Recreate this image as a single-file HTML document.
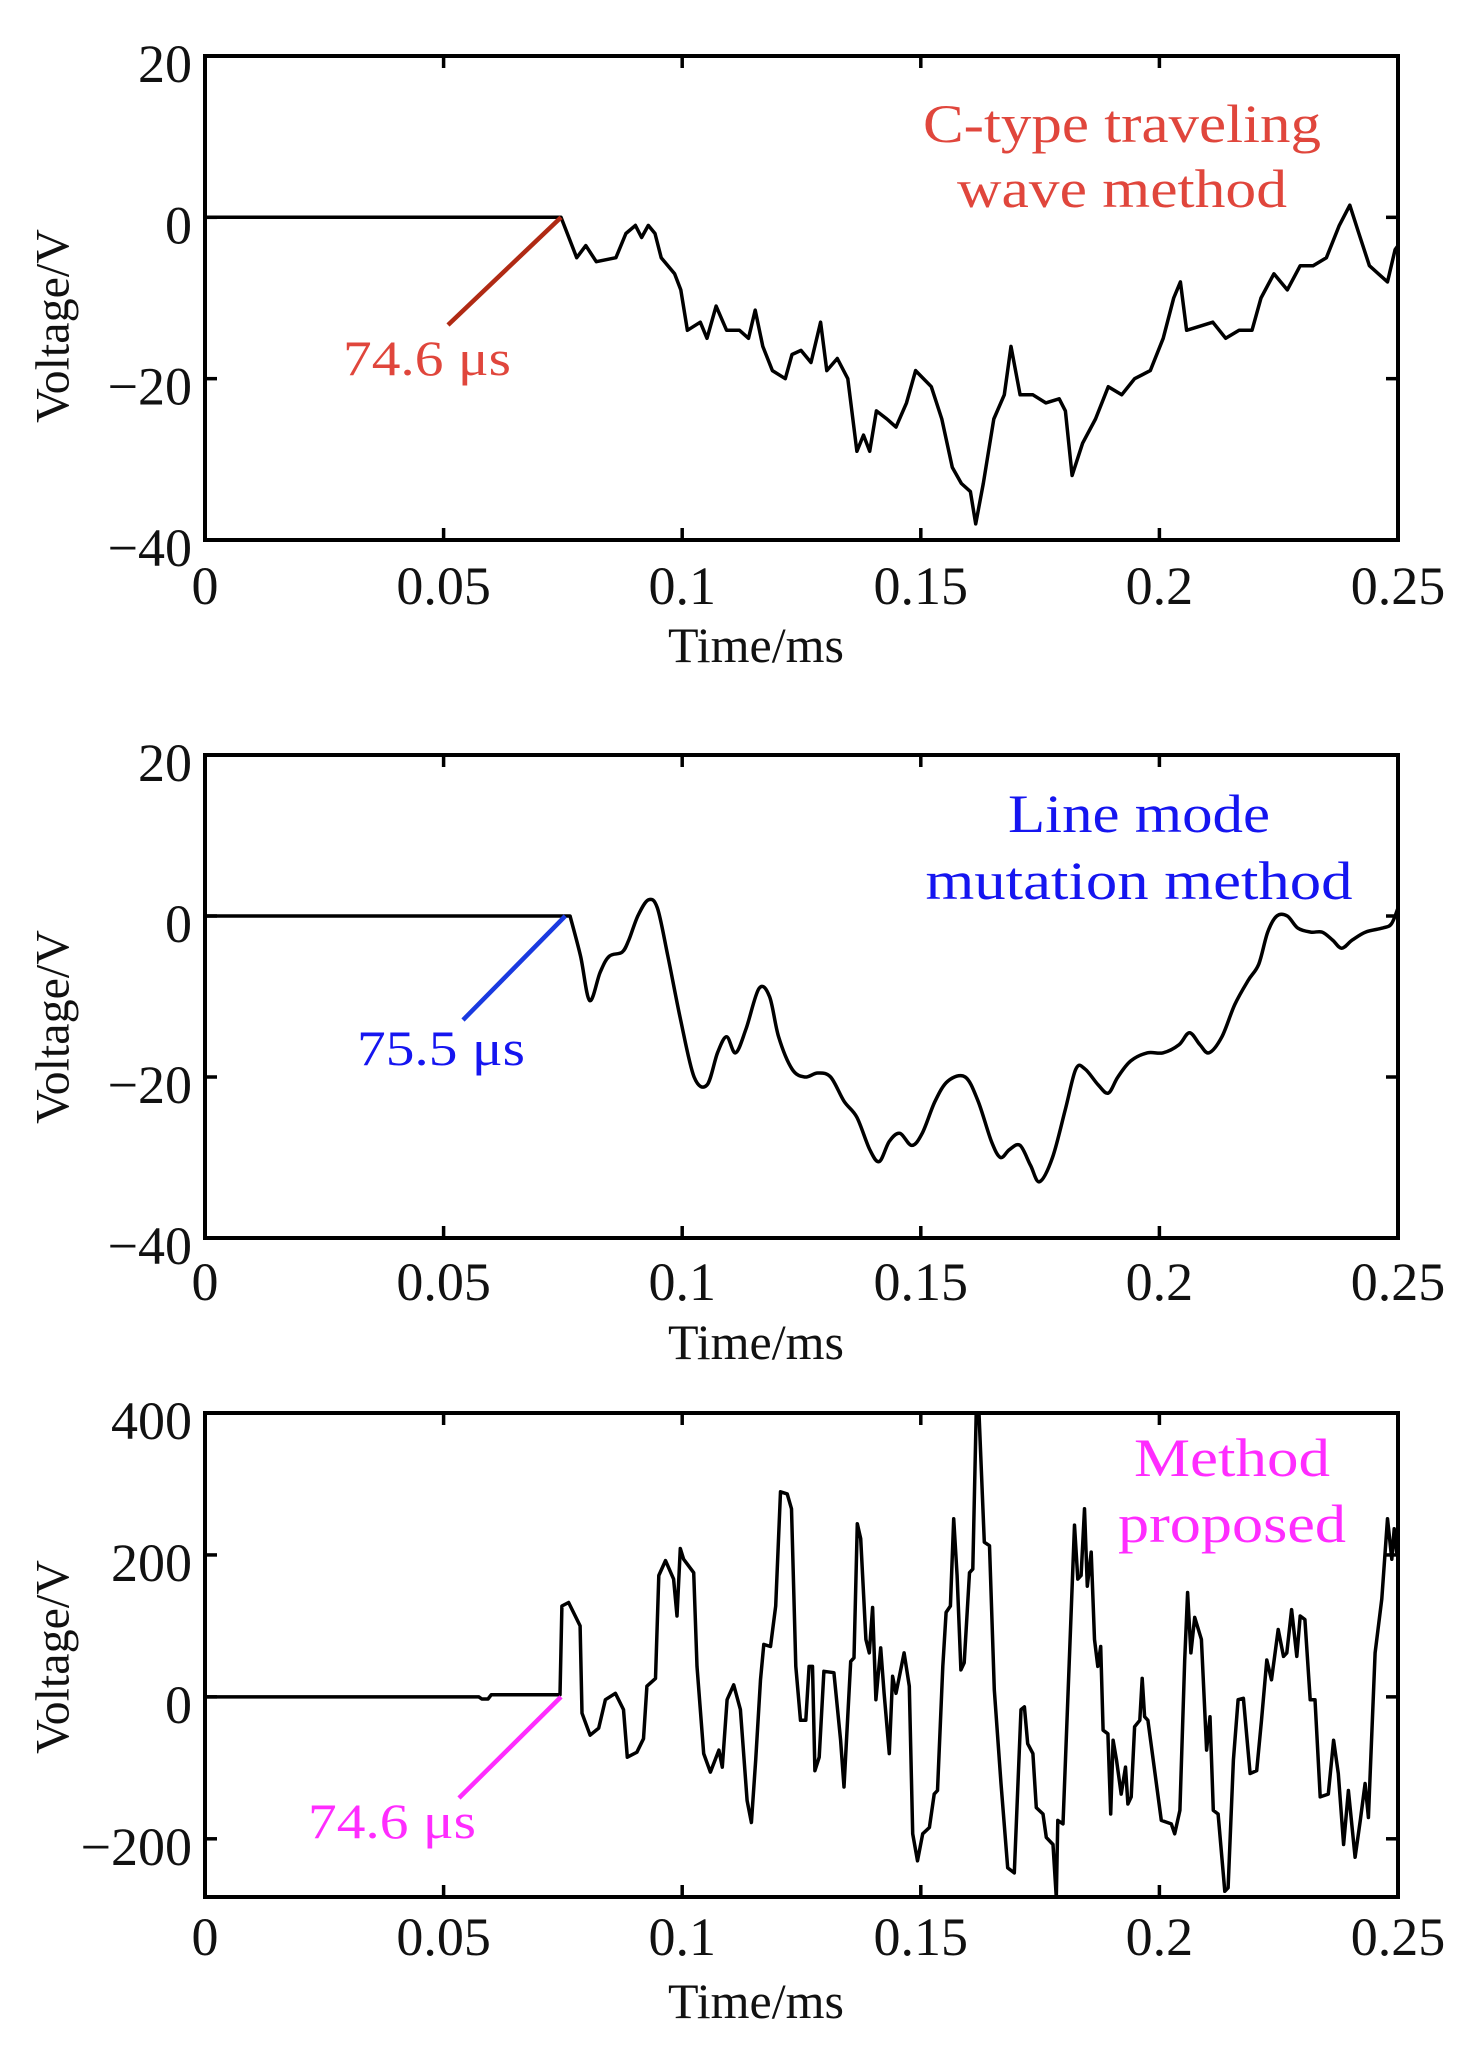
<!DOCTYPE html>
<html><head><meta charset="utf-8"><style>
html,body{margin:0;padding:0;background:#fff}
svg{display:block}
text{font-family:"Liberation Serif",serif}
</style></head><body>
<svg id="fig" width="1465" height="2047" viewBox="0 0 1465 2047" xmlns="http://www.w3.org/2000/svg"></svg>
<script>
// ---------- data ----------
const xTicks = [0, 0.05, 0.1, 0.15, 0.2, 0.25];
const xTickLabels = ["0", "0.05", "0.1", "0.15", "0.2", "0.25"];
const yTicks1 = [20, 0, -20, -40];
const yTickLabels1 = ["20", "0", "\u221220", "\u221240"];
const yTicks2 = [20, 0, -20, -40];
const yTickLabels2 = ["20", "0", "\u221220", "\u221240"];
const yTicks3 = [400, 200, 0, -200];
const yTickLabels3 = ["400", "200", "0", "\u2212200"];
const onsetTimes = [0.0746, 0.0755, 0.0746];

const t1 = [0,0.0746,0.0779,0.0798,0.0820,0.0861,0.0882,0.0902,0.0915,0.0929,0.0943,0.0956,0.0984,0.0997,0.1011,0.1038,0.1052,0.1071,0.1093,0.1120,0.1139,0.1153,0.1169,0.1189,0.1216,0.1230,0.1249,0.1270,0.1290,0.1303,0.1325,0.1347,0.1366,0.1380,0.1393,0.1407,0.1429,0.1448,0.1470,0.1489,0.1522,0.1544,0.1566,0.1585,0.1604,0.1615,0.1631,0.1653,0.1675,0.1689,0.1708,0.1735,0.1762,0.1790,0.1803,0.1817,0.1839,0.1866,0.1893,0.1921,0.1948,0.1981,0.2008,0.2030,0.2044,0.2057,0.2085,0.2112,0.2139,0.2167,0.2194,0.2213,0.2240,0.2268,0.2295,0.2322,0.2350,0.2377,0.2399,0.2418,0.2440,0.2459,0.2478,0.2494,0.25];
const v1 = [0,0,-5,-3.5,-5.5,-5,-2,-1,-2.5,-1,-2,-5,-7,-9,-14,-13,-15,-11,-14,-14,-15,-11.5,-16,-19,-20,-17,-16.5,-18,-13,-19,-17.5,-20,-29,-27,-29,-24,-25,-26,-23,-19,-21,-25,-31,-33,-34,-38,-33,-25,-22,-16,-22,-22,-23,-22.5,-24,-32,-28,-25,-21,-22,-20,-19,-15,-10,-8,-14,-13.5,-13,-15,-14,-14,-10,-7,-9,-6,-6,-5,-1,1.5,-2,-6,-7,-8,-4,-3.5];

const t2 = [0,0.0765,0.0787,0.0806,0.0828,0.0847,0.0874,0.0888,0.0907,0.0929,0.0948,0.0970,0.0997,0.1025,0.1052,0.1074,0.1093,0.1112,0.1134,0.1161,0.1183,0.1202,0.1230,0.1257,0.1284,0.1311,0.1339,0.1366,0.1393,0.1413,0.1434,0.1456,0.1481,0.1503,0.1530,0.1557,0.1593,0.1620,0.1648,0.1667,0.1686,0.1708,0.1730,0.1749,0.1776,0.1803,0.1825,0.1844,0.1872,0.1893,0.1913,0.1940,0.1975,0.2008,0.2041,0.2063,0.2085,0.2104,0.2131,0.2158,0.2186,0.2208,0.2227,0.2246,0.2268,0.2290,0.2317,0.2341,0.2363,0.2382,0.2404,0.2432,0.2467,0.2486,0.25];
const v2 = [0,0,-5,-10.5,-7,-5,-4.5,-3,0,2,1,-5,-13,-20,-21,-17,-15,-17,-14,-9,-10,-15,-19,-20,-19.5,-20,-23,-25,-29,-30.5,-28,-27,-28.5,-27,-23,-20.5,-20,-23,-28,-30,-29,-28.5,-31,-33,-30,-24,-19,-19,-21,-22,-20,-18,-17,-17,-16,-14.5,-16,-17,-15,-11,-8,-6,-2,0,0,-1.5,-2,-2,-3,-4,-3,-2,-1.5,-1,1];

const t3 = [0,0.0574,0.0580,0.0593,0.0600,0.0744,0.0748,0.0762,0.0786,0.0790,0.0807,0.0825,0.0839,0.0860,0.0877,0.0885,0.0905,0.0919,0.0926,0.0944,0.0951,0.0965,0.0982,0.0989,0.0996,0.1003,0.1024,0.1031,0.1045,0.1059,0.1077,0.1084,0.1094,0.1108,0.1122,0.1136,0.1145,0.1154,0.1164,0.1171,0.1185,0.1196,0.1206,0.1220,0.1229,0.1238,0.1248,0.1259,0.1266,0.1273,0.1278,0.1287,0.1297,0.1318,0.1332,0.1339,0.1353,0.1360,0.1367,0.1374,0.1385,0.1392,0.1399,0.1406,0.1416,0.1423,0.1434,0.1441,0.1448,0.1465,0.1476,0.1483,0.1493,0.1504,0.1518,0.1528,0.1535,0.1546,0.1553,0.1562,0.1569,0.1576,0.1584,0.1591,0.1602,0.1609,0.1616,0.1622,0.1633,0.1644,0.1654,0.1668,0.1682,0.1696,0.1710,0.1717,0.1724,0.1735,0.1742,0.1756,0.1763,0.1777,0.1784,0.1787,0.1798,0.1808,0.1822,0.1829,0.1836,0.1843,0.1849,0.1857,0.1864,0.1871,0.1877,0.1882,0.1892,0.1898,0.1903,0.1910,0.1920,0.1929,0.1934,0.1941,0.1948,0.1959,0.1964,0.1969,0.1976,0.2004,0.2025,0.2032,0.2043,0.2053,0.2059,0.2066,0.2074,0.2088,0.2099,0.2106,0.2113,0.2123,0.2137,0.2144,0.2155,0.2165,0.2176,0.2190,0.2204,0.2214,0.2225,0.2235,0.2249,0.2260,0.2267,0.2277,0.2288,0.2295,0.2305,0.2316,0.2326,0.2337,0.2354,0.2365,0.2375,0.2386,0.2396,0.2410,0.2421,0.2431,0.2438,0.2452,0.2466,0.2478,0.2487,0.2492,0.2497,0.25];
const v3 = [0,0,-3,-3,3,3,128,133,100,-23,-54,-44,-4,5,-18,-85,-78,-59,15,26,171,192,166,114,209,194,175,43,-80,-106,-75,-99,-4,17,-18,-146,-177,-89,24,74,71,128,289,286,265,43,-33,-33,43,43,-104,-85,36,34,-61,-127,50,55,244,223,81,62,126,-4,69,5,-80,29,5,62,15,-193,-231,-193,-184,-137,-132,43,119,128,251,171,38,48,175,180,400,400,218,213,10,-122,-241,-248,-18,-14,-66,-80,-156,-165,-198,-208,-283,-174,-179,-4,242,166,171,265,156,204,81,43,71,-47,-52,-165,-61,-89,-137,-99,-151,-141,-42,-33,26,-28,-33,-174,-179,-193,-160,52,147,62,112,81,-75,-28,-160,-165,-274,-269,-89,-4,-2,-108,-104,-33,52,24,95,57,62,123,57,114,109,-4,-4,-141,-137,-61,-108,-208,-132,-226,-174,-122,-170,62,138,251,194,237,204,232];

// ---------- drawing ----------
const NS = "http://www.w3.org/2000/svg";
const svg = document.getElementById("fig");
const X0 = 205, X1 = 1398;
function mk(tag, attrs, parent) {
  const e = document.createElementNS(NS, tag);
  for (const k in attrs) e.setAttribute(k, attrs[k]);
  (parent || svg).appendChild(e);
  return e;
}
function xScale(t) { return X0 + (t - 0) / 0.25 * (X1 - X0); }

const panels = [
  {name:"c-type", top:56, bot:540, ymax:20, ymin:-40, ticks:yTicks1, labels:yTickLabels1, t:t1, v:v1, smooth:false,
   xlabY:586, tlabY:645, vlabY:326,
   title:["C-type traveling","wave method"], titleX:1122, titleY:[124,189], titleW:[398,330], color:"#e0463c",
   lineColor:"#b02a14", lx1:448, ly1:325, ann:"74.6 \u03bcs", annX:427, annY:358},
  {name:"line-mode", top:755, bot:1238, ymax:20, ymin:-40, ticks:yTicks2, labels:yTickLabels2, t:t2, v:v2, smooth:true,
   xlabY:1282, tlabY:1342, vlabY:1027,
   title:["Line mode","mutation method"], titleX:1139, titleY:[814,881], titleW:[262,427], color:"#1515f0",
   lineColor:"#1a3ae0", lx1:463, ly1:1020, ann:"75.5 \u03bcs", annX:441, annY:1048},
  {name:"proposed", top:1413, bot:1897, ymax:400, ymin:-282, ticks:yTicks3, labels:yTickLabels3, t:t3, v:v3, smooth:false,
   xlabY:1937, tlabY:2001, vlabY:1657,
   title:["Method","proposed"], titleX:1232, titleY:[1458,1524], titleW:[196,228], color:"#ff2cff",
   lineColor:"#ff2cff", lx1:459, ly1:1798, ann:"74.6 \u03bcs", annX:392, annY:1821}
];

panels.forEach((p, idx) => {
  const g = mk("g", {});
  
  
  const ys = v => p.top + (p.ymax - v) / (p.ymax - p.ymin) * (p.bot - p.top);

  let d = "";
  if (!p.smooth) {
    p.t.forEach((t, i) => { d += (i ? "L" : "M") + xScale(t).toFixed(1) + "," + ys(p.v[i]).toFixed(1); });
  } else {
    const pts = p.t.map((t, i) => [xScale(t), ys(p.v[i])]);
    d = "M" + pts[0][0] + "," + pts[0][1] + "L" + pts[1][0] + "," + pts[1][1];
    for (let i = 1; i < pts.length - 1; i++) {
      const p0 = pts[Math.max(1, i - 1)], p1 = pts[i], p2 = pts[i + 1], p3 = pts[Math.min(pts.length - 1, i + 2)];
      const c1x = p1[0] + (p2[0] - p0[0]) / 6, c1y = p1[1] + (p2[1] - p0[1]) / 6;
      const c2x = p2[0] - (p3[0] - p1[0]) / 6, c2y = p2[1] - (p3[1] - p1[1]) / 6;
      d += "C" + c1x.toFixed(1) + "," + c1y.toFixed(1) + " " + c2x.toFixed(1) + "," + c2y.toFixed(1) + " " + p2[0].toFixed(1) + "," + p2[1].toFixed(1);
    }
  }
  const clip = mk("clipPath", {id:"clip" + idx}, g);
  mk("rect", {x:X0, y:p.top, width:X1 - X0, height:p.bot - p.top}, clip);
  const path = mk("path", {d:d, fill:"none", stroke:"#000", "stroke-width":3.5, "stroke-linejoin":"round", "clip-path":"url(#clip" + idx + ")"}, g);
  
  

  const fr = mk("rect", {x:X0, y:p.top, width:X1 - X0, height:p.bot - p.top, fill:"none", stroke:"#000", "stroke-width":4}, g);
  
  

  xTicks.forEach((t, i) => {
    const x = xScale(t);
    mk("line", {x1:x, y1:p.bot, x2:x, y2:p.bot - 12, stroke:"#000", "stroke-width":3.5}, g);
    mk("line", {x1:x, y1:p.top, x2:x, y2:p.top + 12, stroke:"#000", "stroke-width":3.5}, g);
    const tx = mk("text", {x:x, y:p.xlabY, "font-size":54, "text-anchor":"middle", "dominant-baseline":"central", fill:"#111"}, g);
    tx.textContent = xTickLabels[i];
    
    
  });
  p.ticks.forEach((v, i) => {
    const y = ys(v);
    mk("line", {x1:X0, y1:y, x2:X0 + 12, y2:y, stroke:"#000", "stroke-width":3.5}, g);
    mk("line", {x1:X1, y1:y, x2:X1 - 12, y2:y, stroke:"#000", "stroke-width":3.5}, g);
    const ty = mk("text", {x:192, y:y + 8, "font-size":54, "text-anchor":"end", "dominant-baseline":"central", fill:"#111"}, g);
    ty.textContent = p.labels[i];
    
    
  });
  const xt = mk("text", {x:756, y:p.tlabY, "font-size":50, "text-anchor":"middle", "dominant-baseline":"central", fill:"#111"}, g);
  xt.textContent = "Time/ms";
  
  
  const yt = mk("text", {x:0, y:0, "font-size":48, "text-anchor":"middle", "dominant-baseline":"central", fill:"#111",
    transform:"translate(53," + p.vlabY + ") rotate(-90)"}, g);
  yt.textContent = "Voltage/V";
  
  

  p.title.forEach((s, i) => {
    const tt = mk("text", {x:p.titleX, y:p.titleY[i], "font-size":54, "text-anchor":"middle", "dominant-baseline":"central",
      fill:p.color, textLength:p.titleW[i], lengthAdjust:"spacingAndGlyphs"}, g);
    tt.textContent = s;
    
    
  });
  const startX = xScale(onsetTimes[idx]), startY = ys(0);
  const ln = mk("line", {x1:p.lx1, y1:p.ly1, x2:startX, y2:startY, stroke:p.lineColor, "stroke-width":4.5}, g);
  
  
  const at = mk("text", {x:p.annX, y:p.annY, "font-size":50, "text-anchor":"middle", "dominant-baseline":"central",
    fill:p.color, textLength:168, lengthAdjust:"spacingAndGlyphs"}, g);
  at.textContent = p.ann;
  
  
});
</script>
</body></html>
